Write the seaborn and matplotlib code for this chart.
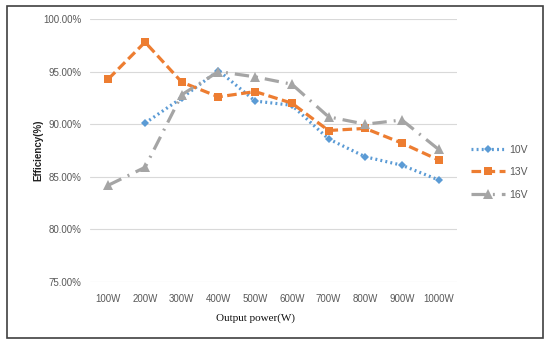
import numpy as np
import pandas as pd
import matplotlib
matplotlib.use("Agg")
import matplotlib.pyplot as plt
from matplotlib.patches import Rectangle
from matplotlib.lines import Line2D
import seaborn as sns

powers = ["100W", "200W", "300W", "400W", "500W", "600W", "700W", "800W", "900W", "1000W"]
eff_10v = [np.nan, 90.1, 92.5, 95.1, 92.2, 91.8, 88.6, 86.9, 86.1, 84.7]
eff_13v = [94.3, 97.8, 94.0, 92.6, 93.1, 92.0, 89.4, 89.6, 88.2, 86.6]
eff_16v = [84.2, 85.9, 92.8, 95.0, 94.5, 93.8, 90.7, 90.0, 90.4, 87.6]
series_names = ["10V", "13V", "16V"]
y_ticks = [75, 80, 85, 90, 95, 100]

colors = {"10V": "#5B9BD5", "13V": "#ED7D31", "16V": "#A5A5A5"}
markers = {"10V": "D", "13V": "s", "16V": "^"}
dashes = {"10V": (0.6, 1.0), "13V": (3.0, 1.4), "16V": (4.5, 2.2, 0.6, 2.2)}
msize = {"10V": 4.5, "13V": 6, "16V": 6.5}

rows = []
for i, p in enumerate(powers):
    for name, vals in zip(series_names, [eff_10v, eff_13v, eff_16v]):
        rows.append({"power": p, "pos": i, "series": name, "eff": vals[i]})
df = pd.DataFrame(rows).dropna()

sns.set_style("white")
plt.rcParams["font.family"] = ["Liberation Sans", "DejaVu Sans"]

fig = plt.figure(figsize=(5.5, 3.45), dpi=100)
ax = fig.add_axes([90 / 550, 1 - 282 / 345, 367 / 550, 263 / 345])

for name in series_names:
    sub = df[df["series"] == name]
    sns.lineplot(data=sub, x="pos", y="eff", ax=ax, color=colors[name],
                 linewidth=2.3, sort=False, legend=False,
                 marker=markers[name], markersize=msize[name],
                 markeredgewidth=0, dashes=False)
    ax.lines[-1].set_dashes(dashes[name])

ax.set_xlim(-0.5, len(powers) - 0.5)
ax.set_ylim(75, 100)
ax.set_xticks(range(len(powers)))
ax.set_xticklabels(powers)
ax.set_yticks(y_ticks)
ax.set_yticklabels([f"{v:.2f}%" for v in y_ticks])
ax.tick_params(axis="both", labelsize=7, colors="#595959", length=0)
ax.tick_params(axis="x", pad=9)
ax.tick_params(axis="y", pad=6)
ax.grid(axis="y", color="#D9D9D9", linewidth=0.8)
ax.set_axisbelow(True)
for s in ax.spines.values():
    s.set_visible(False)

ax.set_xlabel("")
ax.set_ylabel("")
fig.text(255 / 550, 1 - 318 / 345, "Output power(W)", ha="center", va="center",
         fontsize=8, family=["Liberation Serif", "DejaVu Serif"], color="#111111")
fig.text(38 / 550, 1 - 150 / 345, "Efficiency(%)", ha="center", va="center",
         rotation=90, fontsize=7, fontweight="bold", color="#222222")

handles = [Line2D([], [], color=colors[n], linewidth=2.3, dashes=dashes[n],
                  marker=markers[n], markersize=msize[n], markeredgewidth=0)
           for n in series_names]
fig.legend(handles, series_names, loc="center left",
           bbox_to_anchor=(462 / 550, 1 - 172 / 345), frameon=False,
           fontsize=7.5, labelcolor="#595959", handlelength=3.2,
           handletextpad=0.4, labelspacing=1.2)

fig.patches.append(Rectangle((7 / 550, 1 - 338 / 345), 536 / 550, 332 / 345,
                             transform=fig.transFigure, fill=False,
                             edgecolor="#404040", linewidth=1.2))

fig.savefig("out.png", dpi=100, facecolor="white")
